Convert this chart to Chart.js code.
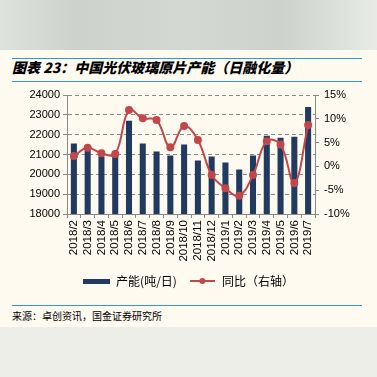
<!DOCTYPE html>
<html><head><meta charset="utf-8">
<script src="https://cdn.jsdelivr.net/npm/chart.js@4"></script>
<style>
html,body{margin:0;padding:0;}
body{width:377px;height:377px;position:relative;overflow:hidden;background:#eeeee9;}
#top{position:absolute;left:0;top:0;width:377px;height:50px;background:linear-gradient(to right,#dde2dd,#cdd2cd 20%,#d3d8d3 50%,#cdd2cd 75%,#e8ebe6);}
#paper{position:absolute;left:0;top:50px;width:377px;height:277px;background:#fefaf0;}
.rule{position:absolute;left:12px;width:350px;height:1px;background:#2f97d3;}
#title{position:absolute;left:12px;top:58px;height:18px;line-height:18px;font-family:"Noto Sans CJK SC",sans-serif;font-weight:900;font-style:italic;font-size:14px;color:#000;white-space:nowrap;}
#src{position:absolute;left:12px;top:309px;height:13px;line-height:13px;font-family:"Noto Sans CJK SC",sans-serif;font-size:10px;color:#000;white-space:nowrap;}
#c{position:absolute;left:0;top:0;}
</style></head><body>
<div id="top"></div>
<div id="paper"></div>
<div class="rule" style="top:58px"></div>
<div class="rule" style="top:81px"></div>
<div id="title">图表 23：中国光伏玻璃原片产能（日融化量）</div>
<div class="rule" style="top:305px"></div>
<div id="src">来源：卓创资讯，国金证券研究所</div>
<canvas id="c" width="377" height="377"></canvas>
<script>
const categories = ['2018/2','2018/3','2018/4','2018/5','2018/6','2018/7','2018/8','2018/9','2018/10','2018/11','2018/12','2019/1','2019/2','2019/3','2019/4','2019/5','2019/6','2019/7'];
const capacity = [21550,21200,20900,20900,22700,21550,21150,20950,21500,20700,20900,20600,20250,20950,21950,21850,21900,23400];
const yoy = [2.2,3.9,2.75,2.6,11.85,10.1,9.75,4.0,8.5,5.55,-1.8,-4.6,-6.15,-1.8,5.3,4.6,-3.5,8.7];
const leftTicks = [18000,19000,20000,21000,22000,23000,24000];
const rightTicks = [-10,-5,0,5,10,15];
const seriesNames = ['产能(吨/日)','同比（右轴）'];

const BAR = '#213a60', RED = '#c2474b';

function swatchBar(){const c=document.createElement('canvas');c.width=27;c.height=5;const x=c.getContext('2d');x.fillStyle=BAR;x.fillRect(0,0,27,5);return c;}
function swatchLine(){const c=document.createElement('canvas');c.width=25;c.height=8;const x=c.getContext('2d');x.strokeStyle=RED;x.lineWidth=2;x.beginPath();x.moveTo(0,4);x.lineTo(25,4);x.stroke();x.fillStyle=RED;x.beginPath();x.arc(12.5,4,3,0,Math.PI*2);x.fill();return c;}
const swatches=[swatchBar(),swatchLine()];

const tickFont={family:'"Liberation Sans", Arial, sans-serif',size:11};

new Chart(document.getElementById('c'),{
  data:{labels:categories,datasets:[
    {type:'bar',label:seriesNames[0],data:capacity,backgroundColor:BAR,yAxisID:'y',barPercentage:0.44,categoryPercentage:1,order:1},
    {type:'line',label:seriesNames[1],data:yoy,borderColor:RED,backgroundColor:RED,borderWidth:2,pointRadius:3,pointBackgroundColor:RED,pointBorderColor:RED,tension:0.4,yAxisID:'y1',order:0}
  ]},
  options:{
    responsive:false,animation:false,
    layout:{padding:{top:95,bottom:80,left:0,right:0}},
    plugins:{
      tooltip:{enabled:false},
      legend:{position:'bottom',labels:{usePointStyle:true,pointStyleWidth:27,padding:12,color:'#000',font:{family:'"Noto Sans CJK SC", sans-serif',size:12},
        sort:(a,b)=>a.datasetIndex-b.datasetIndex,
        generateLabels:(chart)=>{const items=Chart.defaults.plugins.legend.labels.generateLabels(chart);items.forEach((it)=>{it.pointStyle=swatches[it.datasetIndex];});return items;}}}
    },
    scales:{
      x:{grid:{display:true,drawOnChartArea:false,tickLength:4,color:'#888',offset:true},border:{color:'#888'},
         ticks:{minRotation:90,maxRotation:90,autoSkip:false,color:'#000',font:{family:'"Liberation Sans", Arial, sans-serif',size:11.5},padding:2},
         afterFit:(s)=>{s.height=49;}},
      y:{position:'left',min:18000,max:24000,afterBuildTicks:(s)=>{s.ticks=leftTicks.map(v=>({value:v}));},
         grid:{color:'#8a8a8a',tickColor:'#888',tickLength:4,tickBorderDash:[]},border:{color:'#888',dash:[4,3]},
         ticks:{color:'#000',font:tickFont,padding:3,callback:(v)=>String(v)},afterFit:(s)=>{s.width=67;}},
      y1:{position:'right',min:-10,max:15,afterBuildTicks:(s)=>{s.ticks=rightTicks.map(v=>({value:v}));},
         grid:{drawOnChartArea:false,color:'#888',tickLength:4},border:{color:'#888'},
         ticks:{color:'#000',font:tickFont,padding:5,callback:(v)=>v+'%'},afterFit:(s)=>{s.width=62;}}
    }
  }
});
</script>
</body></html>
